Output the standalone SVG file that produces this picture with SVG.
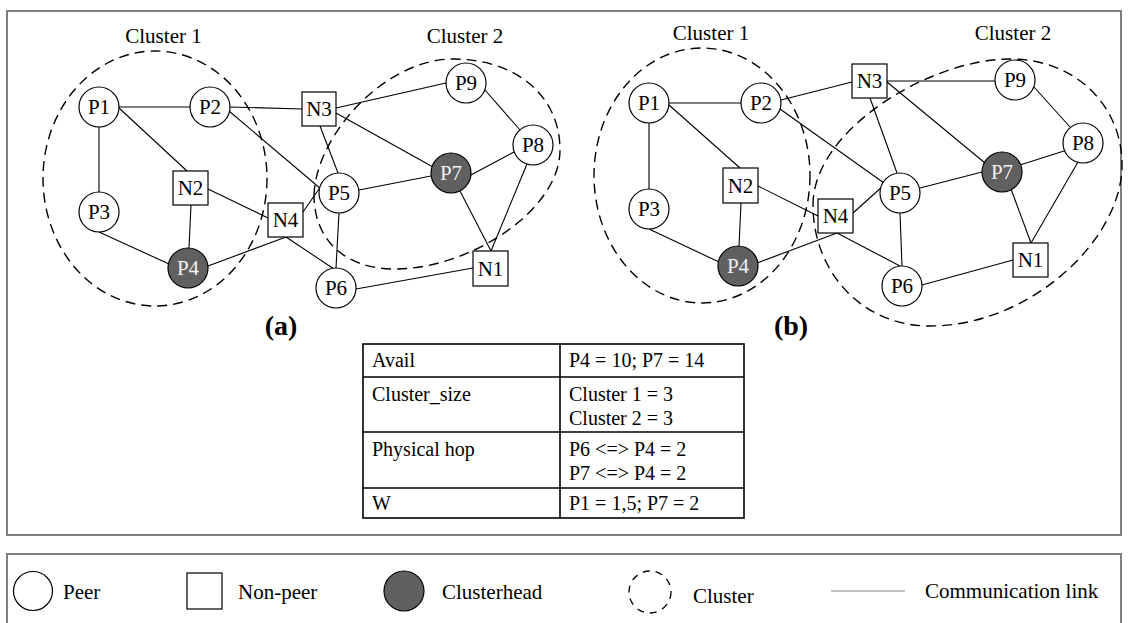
<svg xmlns="http://www.w3.org/2000/svg" width="1129" height="623" viewBox="0 0 1129 623">
<style>
  text { font-family: "Liberation Serif", "Times New Roman", serif; fill: #000; }
  .lbl { font-size: 21px; text-anchor: middle; }
  .wlbl { font-size: 21px; text-anchor: middle; fill: #f2f2f2; }
  .cl { font-size: 21px; text-anchor: middle; }
  .tb { font-size: 20px; }
  .lg { font-size: 21px; }
  .cap { font-size: 28px; font-weight: bold; text-anchor: middle; }
  .peer { fill: #fff; stroke: #000; stroke-width: 1.2; }
  .head { fill: #606060; stroke: #000; stroke-width: 1.2; }
  .np { fill: #fff; stroke: #000; stroke-width: 1.2; }
  .clu { fill: none; stroke: #000; stroke-width: 1.4; stroke-dasharray: 10 6; }
  .frame { fill: none; stroke: #7f7f7f; stroke-width: 2; }
  .edges line { stroke: #000; stroke-width: 1.1; }
  .grid { fill: none; stroke: #000; stroke-width: 1.6; }
</style>

<rect class="frame" x="7" y="11" width="1114" height="524"/>
<rect class="frame" x="7" y="554" width="1114" height="80"/>

<!-- Clusters (a) -->
<g id="a-cluster1">
  <ellipse class="clu" cx="155" cy="178.5" rx="112" ry="127.5"/>
  <text class="cl" x="163.5" y="43">Cluster 1</text>
</g>
<g id="a-cluster2">
  <path class="clu" d="M314,195 C316,135 385,59 453,59 C515,59 560,95 560,150 C560,210 470,269 395,269 C345,269 314,240 314,195 Z"/>
  <text class="cl" x="465" y="43">Cluster 2</text>
</g>

<!-- Clusters (b) -->
<g id="b-cluster1">
  <ellipse class="clu" cx="702" cy="175.5" rx="108" ry="127.5"/>
  <text class="cl" x="711" y="40">Cluster 1</text>
</g>
<g id="b-cluster2">
  <path class="clu" d="M813,205 C813,130 930,59 1010,59 C1075,59 1122,105 1122,165 C1122,240 1030,326 930,326 C860,326 813,270 813,205 Z"/>
  <text class="cl" x="1013" y="40">Cluster 2</text>
</g>

<!-- Connectors -->
<g id="connectors" class="edges">
  <!-- (a) -->
  <line x1="119" y1="107" x2="190" y2="107"/>
  <line x1="99" y1="127" x2="99" y2="192"/>
  <line x1="119" y1="108" x2="187" y2="171"/>
  <line x1="230" y1="107" x2="302" y2="109"/>
  <line x1="229" y1="111" x2="321" y2="189"/>
  <line x1="336" y1="108" x2="446" y2="83"/>
  <line x1="320" y1="126" x2="338" y2="173"/>
  <line x1="336" y1="113" x2="433" y2="167"/>
  <line x1="485" y1="90" x2="520" y2="130"/>
  <line x1="514" y1="152" x2="469" y2="176"/>
  <line x1="359" y1="190" x2="431" y2="176"/>
  <line x1="527" y1="164" x2="491" y2="251"/>
  <line x1="460" y1="191" x2="491" y2="251"/>
  <line x1="473" y1="268" x2="356" y2="289"/>
  <line x1="339" y1="213" x2="336" y2="268"/>
  <line x1="286" y1="237" x2="334" y2="269"/>
  <line x1="303" y1="212" x2="321" y2="186"/>
  <line x1="208" y1="189" x2="268" y2="218"/>
  <line x1="191" y1="205" x2="189" y2="248"/>
  <line x1="99" y1="232" x2="169" y2="264"/>
  <line x1="208" y1="266" x2="286" y2="237"/>
  <!-- (b) -->
  <line x1="669" y1="103" x2="741" y2="103"/>
  <line x1="649" y1="123" x2="649" y2="189"/>
  <line x1="669" y1="105" x2="740" y2="168"/>
  <line x1="781" y1="100" x2="852" y2="82"/>
  <line x1="780" y1="109" x2="884" y2="183"/>
  <line x1="887" y1="81" x2="995" y2="81"/>
  <line x1="870" y1="98" x2="897" y2="173"/>
  <line x1="887" y1="82" x2="985" y2="163"/>
  <line x1="1034" y1="87" x2="1070" y2="127"/>
  <line x1="1064" y1="151" x2="1020" y2="165"/>
  <line x1="920" y1="188" x2="982" y2="172"/>
  <line x1="1078" y1="162" x2="1031" y2="243"/>
  <line x1="1011" y1="189" x2="1031" y2="243"/>
  <line x1="1013" y1="260" x2="922" y2="285"/>
  <line x1="900" y1="213" x2="902" y2="266"/>
  <line x1="837" y1="233" x2="900" y2="266"/>
  <line x1="853" y1="213" x2="883" y2="186"/>
  <line x1="758" y1="186" x2="818" y2="216"/>
  <line x1="741" y1="203" x2="739" y2="246"/>
  <line x1="649" y1="229" x2="719" y2="262"/>
  <line x1="757" y1="263" x2="837" y2="233"/>
</g>

<!-- Nodes (a) -->
<g id="a-P1"><circle class="peer" cx="99" cy="107" r="20"/><text class="lbl" x="99" y="114">P1</text></g>
<g id="a-P2"><circle class="peer" cx="210" cy="107" r="20"/><text class="lbl" x="210" y="114">P2</text></g>
<g id="a-P3"><circle class="peer" cx="99" cy="212" r="20"/><text class="lbl" x="99" y="219">P3</text></g>
<g id="a-P4"><circle class="head" cx="188" cy="268" r="20"/><text class="wlbl" x="188" y="275">P4</text></g>
<g id="a-P5"><circle class="peer" cx="339" cy="193" r="20"/><text class="lbl" x="339" y="200">P5</text></g>
<g id="a-P6"><circle class="peer" cx="336" cy="288" r="20"/><text class="lbl" x="336" y="295">P6</text></g>
<g id="a-P7"><circle class="head" cx="451" cy="173" r="20"/><text class="wlbl" x="451" y="180">P7</text></g>
<g id="a-P8"><circle class="peer" cx="533" cy="145" r="20"/><text class="lbl" x="533" y="152">P8</text></g>
<g id="a-P9"><circle class="peer" cx="466" cy="83" r="20"/><text class="lbl" x="466" y="90">P9</text></g>
<g id="a-N1"><rect class="np" x="473" y="251" width="35" height="35"/><text class="lbl" x="490.5" y="276">N1</text></g>
<g id="a-N2"><rect class="np" x="173" y="171" width="35" height="34"/><text class="lbl" x="190.5" y="195">N2</text></g>
<g id="a-N3"><rect class="np" x="302" y="92" width="34" height="34"/><text class="lbl" x="319" y="116">N3</text></g>
<g id="a-N4"><rect class="np" x="268" y="203" width="35" height="34"/><text class="lbl" x="285.5" y="227">N4</text></g>

<!-- Nodes (b) -->
<g id="b-P1"><circle class="peer" cx="649" cy="103" r="20"/><text class="lbl" x="649" y="110">P1</text></g>
<g id="b-P2"><circle class="peer" cx="761" cy="103" r="20"/><text class="lbl" x="761" y="110">P2</text></g>
<g id="b-P3"><circle class="peer" cx="649" cy="209" r="20"/><text class="lbl" x="649" y="216">P3</text></g>
<g id="b-P4"><circle class="head" cx="738" cy="266" r="20"/><text class="wlbl" x="738" y="273">P4</text></g>
<g id="b-P5"><circle class="peer" cx="900" cy="193" r="20"/><text class="lbl" x="900" y="200">P5</text></g>
<g id="b-P6"><circle class="peer" cx="902" cy="286" r="20"/><text class="lbl" x="902" y="293">P6</text></g>
<g id="b-P7"><circle class="head" cx="1002" cy="172" r="20"/><text class="wlbl" x="1002" y="179">P7</text></g>
<g id="b-P8"><circle class="peer" cx="1083" cy="143" r="20"/><text class="lbl" x="1083" y="150">P8</text></g>
<g id="b-P9"><circle class="peer" cx="1015" cy="80" r="20"/><text class="lbl" x="1015" y="87">P9</text></g>
<g id="b-N1"><rect class="np" x="1013" y="243" width="35" height="34"/><text class="lbl" x="1030.5" y="267">N1</text></g>
<g id="b-N2"><rect class="np" x="723" y="168" width="35" height="35"/><text class="lbl" x="740.5" y="193">N2</text></g>
<g id="b-N3"><rect class="np" x="852" y="64" width="35" height="34"/><text class="lbl" x="869.5" y="88">N3</text></g>
<g id="b-N4"><rect class="np" x="818" y="199" width="35" height="34"/><text class="lbl" x="835.5" y="223">N4</text></g>

<!-- Captions -->
<text class="cap" x="281" y="335">(a)</text>
<text class="cap" x="791" y="335">(b)</text>

<!-- Table -->
<g id="table">
  <rect class="grid" x="363" y="344" width="381" height="174"/>
  <line class="grid" x1="560" y1="344" x2="560" y2="518"/>
  <line class="grid" x1="363" y1="377" x2="744" y2="377"/>
  <line class="grid" x1="363" y1="432" x2="744" y2="432"/>
  <line class="grid" x1="363" y1="488" x2="744" y2="488"/>
  <text class="tb" x="372" y="367">Avail</text>
  <text class="tb" x="569" y="367">P4 = 10; P7 = 14</text>
  <text class="tb" x="372" y="401">Cluster_size</text>
  <text class="tb" x="569" y="401">Cluster 1 = 3</text>
  <text class="tb" x="569" y="425">Cluster 2 = 3</text>
  <text class="tb" x="372" y="456">Physical hop</text>
  <text class="tb" x="569" y="456">P6 &lt;=&gt; P4 = 2</text>
  <text class="tb" x="569" y="480">P7 &lt;=&gt; P4 = 2</text>
  <text class="tb" x="372" y="510">W</text>
  <text class="tb" x="569" y="510">P1 = 1,5; P7 = 2</text>
</g>

<!-- Legend -->
<g id="legend">
  <circle class="peer" cx="33" cy="591" r="19.5"/>
  <text class="lg" x="63" y="599">Peer</text>
  <rect class="np" x="187" y="573" width="35" height="36"/>
  <text class="lg" x="238" y="599">Non-peer</text>
  <circle class="head" cx="404" cy="591" r="20"/>
  <text class="lg" x="442" y="599">Clusterhead</text>
  <circle cx="650" cy="592" r="21" fill="none" stroke="#000" stroke-width="1.3" stroke-dasharray="7 6"/>
  <text class="lg" x="693" y="603">Cluster</text>
  <line x1="831" y1="591" x2="905" y2="591" stroke="#888" stroke-width="1.2"/>
  <text class="lg" x="925" y="598">Communication link</text>
</g>
</svg>
